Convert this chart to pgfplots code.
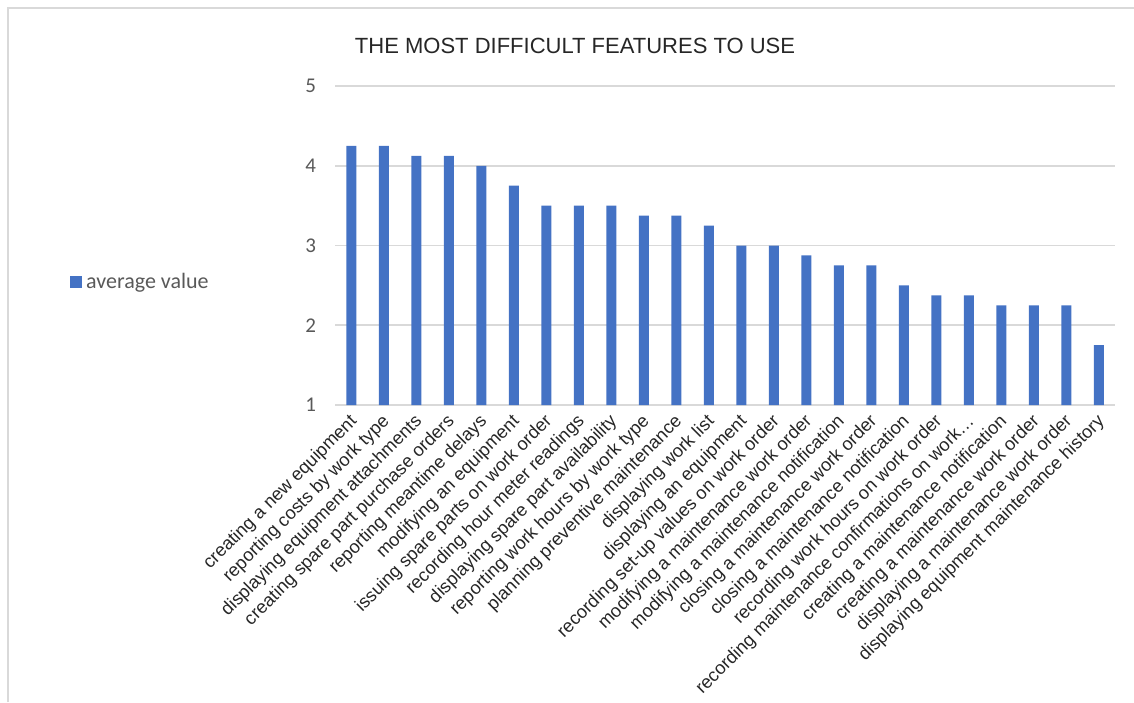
\documentclass[border=0pt]{standalone}
\usepackage{pgfplots}
\pgfplotsset{compat=1.18}
\usepackage{fontspec}
\setmainfont{Liberation Sans}
\newfontfamily\carlito{Carlito}
\definecolor{barblue}{HTML}{4472C4}
\definecolor{gridgray}{HTML}{D9D9D9}
\definecolor{txtgray}{HTML}{595959}
\begin{document}
\begin{tikzpicture}
\useasboundingbox (0,0) rectangle (567pt,351pt);
\draw[gridgray, line width=1pt] (4pt,0) -- (4pt,347pt) -- (567pt,347pt);
\begin{axis}[
  at={(167.5pt,148.5pt)}, anchor=south west,
  scale only axis, width=390pt, height=159.5pt,
  ymin=1, ymax=5, ytick={1,2,3,4,5},
  xmin=-0.5, xmax=23.5,
  xtick=data,
  xticklabels={creating a new equipment,reporting costs by work type,displaying equipment attachments,creating spare part purchase orders,reporting meantime delays,modifying an equipment,issuing spare parts on work order,recording hour meter readings,displaying spare part availability,reporting work hours by work type,planning preventive maintenance,displaying work list,displaying an equipment,recording set-up values on work order,modifying a maintenance work order,modifying a maintenance notification,closing a maintenance work order,closing a maintenance notification,recording work hours on work order,recording maintenance confirmations on work…,creating a maintenance notification,creating a maintenance work order,displaying a maintenance work order,displaying equipment maintenance history},
  xticklabel style={xshift=4pt, yshift=-4.5pt, rotate=45, anchor=east, font=\fontsize{9.1}{11}\selectfont, text=black!85},
  yticklabel style={font=\carlito\fontsize{10.5}{12}\selectfont, text=txtgray, xshift=-6pt},
  /pgf/number format/assume math mode=true,
  major tick length=0pt,
  axis line style={draw=none},
  ymajorgrids, grid style={gridgray, line width=0.8pt},
  title={THE MOST DIFFICULT FEATURES TO USE},
  title style={at={(axis description cs:0.3077,1.088)}, anchor=center, font=\fontsize{11}{13}\selectfont, text=black!85},
  legend style={at={(axis description cs:-0.34,0.385)}, anchor=west, draw=none, fill=none, font=\carlito\fontsize{11}{13}\selectfont, text=txtgray, inner sep=0pt},
  legend image code/.code={\fill[barblue] (0pt,-3pt) rectangle (6pt,3pt);},
]
\addplot[ybar, bar width=5pt, fill=barblue, draw=none] table[x=x, y=y] {
x y
0 4.25
1 4.25
2 4.125
3 4.125
4 4.0
5 3.75
6 3.5
7 3.5
8 3.5
9 3.375
10 3.375
11 3.25
12 3.0
13 3.0
14 2.875
15 2.75
16 2.75
17 2.5
18 2.375
19 2.375
20 2.25
21 2.25
22 2.25
23 1.75
};
\addlegendentry{average value}
\end{axis}
\end{tikzpicture}
\end{document}
